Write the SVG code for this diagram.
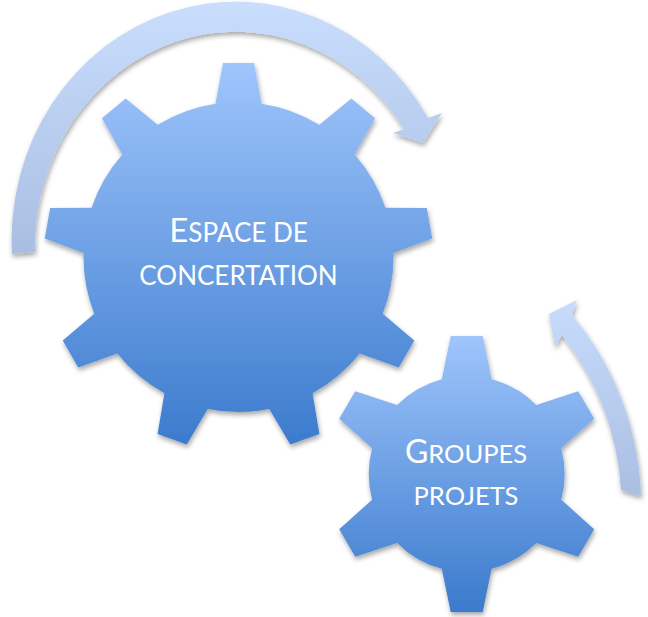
<svg xmlns="http://www.w3.org/2000/svg" width="648" height="617" viewBox="0 0 648 617">
  <defs>
    <style>
      .lbl { font-family: "Lato", "Open Sans", "Liberation Sans", sans-serif; fill: #ffffff; text-anchor: middle; }
    </style>
    <linearGradient id="gBig" gradientUnits="userSpaceOnUse" x1="0" y1="63" x2="0" y2="451">
      <stop offset="0" stop-color="#9fc5fc"/>
      <stop offset="1" stop-color="#3a7acc"/>
    </linearGradient>
    <linearGradient id="gSmall" gradientUnits="userSpaceOnUse" x1="0" y1="336" x2="0" y2="612">
      <stop offset="0" stop-color="#9fc5fc"/>
      <stop offset="1" stop-color="#3a7acc"/>
    </linearGradient>
    <linearGradient id="gArcBig" gradientUnits="userSpaceOnUse" x1="0" y1="5" x2="0" y2="258">
      <stop offset="0" stop-color="#c9ddfd"/>
      <stop offset="1" stop-color="#a8bde1"/>
    </linearGradient>
    <linearGradient id="gArcSmall" gradientUnits="userSpaceOnUse" x1="0" y1="298" x2="0" y2="497">
      <stop offset="0" stop-color="#c8dcfd"/>
      <stop offset="1" stop-color="#a9bee1"/>
    </linearGradient>
    <filter id="shadow" x="-10%" y="-10%" width="120%" height="125%">
      <feDropShadow dx="1" dy="3" stdDeviation="2.5" flood-color="#000000" flood-opacity="0.35"/>
    </filter>
    <clipPath id="cpBig">
      <circle cx="238.5" cy="257" r="155"/>
      <polygon points="-25.5,-140 -15.5,-194 15.5,-194 25.5,-140" transform="translate(238.5 257) rotate(0)"/>
      <polygon points="-25.5,-140 -15.5,-194 15.5,-194 25.5,-140" transform="translate(238.5 257) rotate(40)"/>
      <polygon points="-25.5,-140 -15.5,-194 15.5,-194 25.5,-140" transform="translate(238.5 257) rotate(80)"/>
      <polygon points="-25.5,-140 -15.5,-194 15.5,-194 25.5,-140" transform="translate(238.5 257) rotate(120)"/>
      <polygon points="-25.5,-140 -15.5,-194 15.5,-194 25.5,-140" transform="translate(238.5 257) rotate(160)"/>
      <polygon points="-25.5,-140 -15.5,-194 15.5,-194 25.5,-140" transform="translate(238.5 257) rotate(200)"/>
      <polygon points="-25.5,-140 -15.5,-194 15.5,-194 25.5,-140" transform="translate(238.5 257) rotate(240)"/>
      <polygon points="-25.5,-140 -15.5,-194 15.5,-194 25.5,-140" transform="translate(238.5 257) rotate(280)"/>
      <polygon points="-25.5,-140 -15.5,-194 15.5,-194 25.5,-140" transform="translate(238.5 257) rotate(320)"/>
    </clipPath>
    <clipPath id="cpSmall">
      <circle cx="466.7" cy="474" r="98"/>
      <polygon points="-28,-80 -16,-138 16,-138 28,-80" transform="translate(466.7 474) rotate(0)"/>
      <polygon points="-28,-80 -16,-138 16,-138 28,-80" transform="translate(466.7 474) rotate(60)"/>
      <polygon points="-28,-80 -16,-138 16,-138 28,-80" transform="translate(466.7 474) rotate(120)"/>
      <polygon points="-28,-80 -16,-138 16,-138 28,-80" transform="translate(466.7 474) rotate(180)"/>
      <polygon points="-28,-80 -16,-138 16,-138 28,-80" transform="translate(466.7 474) rotate(240)"/>
      <polygon points="-28,-80 -16,-138 16,-138 28,-80" transform="translate(466.7 474) rotate(300)"/>
    </clipPath>
  </defs>

  <rect x="0" y="0" width="648" height="617" fill="#ffffff"/>

  <g id="connectors">
    <path id="arrow-big" filter="url(#shadow)" fill="url(#gArcBig)"
      d="M 12 254 A 224 238.5 0 0 1 428 118 L 442 113 L 423 143 L 393 133 L 404 129 A 201 215.5 0 0 0 35 252 Z"/>
    <path id="arrow-small" filter="url(#shadow)" fill="url(#gArcSmall)"
      d="M 641 496 A 297 297 0 0 0 572 315 L 577 300 L 549 314 L 555 347 L 562 335 A 277 277 0 0 1 621 490 Z"/>
  </g>

  <g id="gear-espace">
    <g filter="url(#shadow)">
      <rect x="40" y="58" width="400" height="395" fill="url(#gBig)" clip-path="url(#cpBig)"/>
    </g>
    <text class="lbl" x="238.5" y="241.5"><tspan font-size="33">E</tspan><tspan font-size="26">SPACE DE</tspan></text>
    <text class="lbl" x="238.5" y="284.5" font-size="26">CONCERTATION</text>
  </g>

  <g id="gear-groupes">
    <g filter="url(#shadow)">
      <rect x="325" y="333" width="285" height="284" fill="url(#gSmall)" clip-path="url(#cpSmall)"/>
    </g>
    <text class="lbl" x="466" y="462.7"><tspan font-size="32">G</tspan><tspan font-size="25.5">ROUPES</tspan></text>
    <text class="lbl" x="466" y="505" font-size="25.5">PROJETS</text>
  </g>
</svg>
